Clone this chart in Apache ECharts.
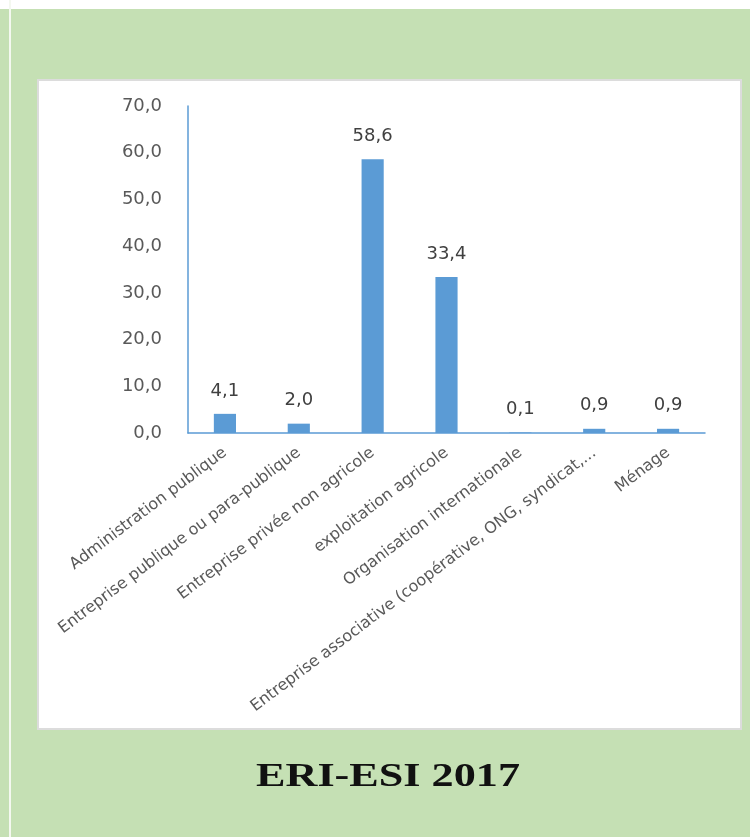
<!DOCTYPE html>
<html>
<head>
<meta charset="utf-8">
<script src="https://cdn.jsdelivr.net/npm/echarts@6/dist/echarts.min.js"></script>
<style>
  html, body { margin: 0; padding: 0; }
  #chart { width: 750px; height: 837px; }
</style>
</head>
<body>
<div id="chart"></div>
<script>
// categories and values
var categories = [
  'Administration publique',
  'Entreprise publique ou para-publique',
  'Entreprise privée non agricole',
  'exploitation agricole',
  'Organisation internationale',
  'Entreprise associative (coopérative, ONG, syndicat,...',
  'Ménage'
];
var values = [4.1, 2.0, 58.6, 33.4, 0.1, 0.9, 0.9];
var yTicks = [0, 10, 20, 30, 40, 50, 60, 70];

function fr(v) {
  return Number(v).toFixed(1).replace('.', ',');
}

var chart = echarts.init(document.getElementById('chart'));
var option = {
  backgroundColor: '#c5e0b4',
  animation: false,
  graphic: [
    { type: 'rect', shape: { x: 0, y: 0, width: 750, height: 9 }, style: { fill: '#ffffff' }, z: -10 },
    { type: 'rect', shape: { x: 9, y: 0, width: 2, height: 837 }, style: { fill: '#f4f8f0' }, z: -10 },
    {
      type: 'rect',
      shape: { x: 38, y: 80, width: 703, height: 649 },
      style: { fill: '#ffffff', stroke: '#dcdcdc', lineWidth: 2 },
      z: -10
    },
    {
      type: 'text',
      x: 388, y: 777,
      scaleX: 1.3,
      style: {
        text: 'ERI-ESI 2017',
        fill: '#111111',
        font: 'bold 34px "Liberation Serif", serif',
        textAlign: 'center',
        textVerticalAlign: 'middle'
      }
    }
  ],
  grid: { left: 188, right: 45, top: 106, bottom: 404, containLabel: false },
  xAxis: {
    type: 'category',
    data: categories,
    axisLine: { lineStyle: { color: '#5b9bd5', width: 1.5 } },
    axisTick: { show: false },
    axisLabel: {
      interval: 0,
      rotate: 37,
      margin: 18,
      color: '#595959',
      fontFamily: 'DejaVu Sans',
      fontSize: 16
    }
  },
  yAxis: {
    type: 'value',
    min: 0, max: 70, interval: 10,
    axisLine: { show: true, lineStyle: { color: '#5b9bd5', width: 1.5 } },
    axisTick: { show: false },
    splitLine: { show: false },
    axisLabel: {
      margin: 26,
      color: '#595959',
      fontFamily: 'DejaVu Sans',
      fontSize: 18,
      formatter: function (v) { return yTicks.indexOf(v) >= 0 ? fr(v) : ''; }
    }
  },
  series: [{
    type: 'bar',
    data: values,
    barWidth: '30%',
    itemStyle: { color: '#5b9bd5' },
    label: {
      show: true,
      position: 'top',
      distance: 14,
      color: '#404040',
      fontFamily: 'DejaVu Sans',
      fontSize: 18,
      formatter: function (p) { return fr(p.value); }
    }
  }]
};
chart.setOption(option);
</script>
</body>
</html>
